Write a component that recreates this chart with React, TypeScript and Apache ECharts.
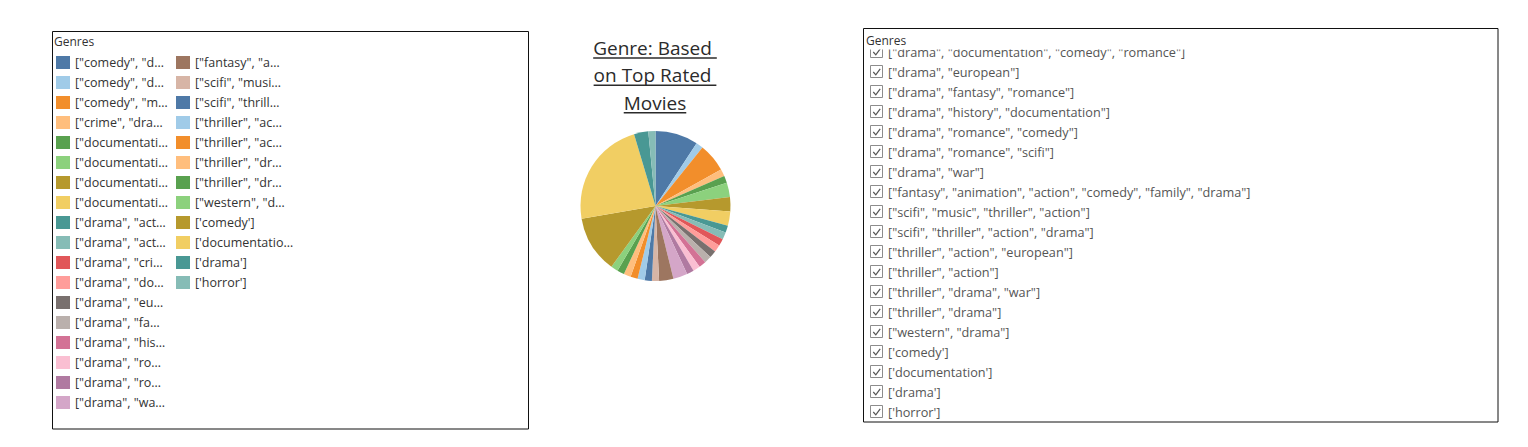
import React, { useEffect, useRef } from "react";
import * as echarts from "echarts";

// ---- data ----
const genreLabels: string[] = [
  '["comedy", "d…',
  '["comedy", "d…',
  '["comedy", "m…',
  '["crime", "dra…',
  '["documentati…',
  '["documentati…',
  '["documentati…',
  '["documentati…',
  '["drama", "act…',
  '["drama", "act…',
  '["drama", "cri…',
  '["drama", "do…',
  '["drama", "eu…',
  '["drama", "fa…',
  '["drama", "his…',
  '["drama", "ro…',
  '["drama", "ro…',
  '["drama", "wa…',
  '["fantasy", "a…',
  '["scifi", "musi…',
  '["scifi", "thrill…',
  '["thriller", "ac…',
  '["thriller", "ac…',
  '["thriller", "dr…',
  '["thriller", "dr…',
  '["western", "d…',
  "['comedy']",
  "['documentatio…",
  "['drama']",
  "['horror']",
];

const movieCounts: number[] = [
  6, 1, 4, 1, 1, 2, 2, 2, 1, 1, 1, 1, 1, 1, 1, 1, 1, 2, 2, 1, 1, 1, 1, 1, 1, 1, 8, 15, 2, 1,
];

const sliceColors: string[] = [
  "#4e79a7", "#a0cbe8", "#f28e2b", "#ffbe7d", "#59a14f", "#8cd17d", "#b6992d", "#f1ce63",
  "#499894", "#86bcb6", "#e15759", "#ff9d9a", "#79706e", "#bab0ac", "#d37295", "#fabfd2",
  "#b07aa1", "#d4a6c8", "#9d7660", "#d7b5a6", "#4e79a7", "#a0cbe8", "#f28e2b", "#ffbe7d",
  "#59a14f", "#8cd17d", "#b6992d", "#f1ce63", "#499894", "#86bcb6",
];

const filterItems: string[] = [
  '["drama", "documentation", "comedy", "romance"]',
  '["drama", "european"]',
  '["drama", "fantasy", "romance"]',
  '["drama", "history", "documentation"]',
  '["drama", "romance", "comedy"]',
  '["drama", "romance", "scifi"]',
  '["drama", "war"]',
  '["fantasy", "animation", "action", "comedy", "family", "drama"]',
  '["scifi", "music", "thriller", "action"]',
  '["scifi", "thriller", "action", "drama"]',
  '["thriller", "action", "european"]',
  '["thriller", "action"]',
  '["thriller", "drama", "war"]',
  '["thriller", "drama"]',
  '["western", "drama"]',
  "['comedy']",
  "['documentation']",
  "['drama']",
  "['horror']",
];

const titleLines: string[] = ["Genre: Based ", "on Top Rated ", "Movies"];
const legendTitle = "Genres";

const FONT = '"Open Sans", "Noto Sans", sans-serif';

function measure(text: string, font: string): number {
  const ctx = document.createElement("canvas").getContext("2d");
  if (!ctx) return text.length * 10;
  ctx.font = font;
  return ctx.measureText(text).width;
}

export default function App() {
  const ref = useRef<HTMLDivElement>(null);

  useEffect(() => {
    if (!ref.current) return;
    const chart = echarts.init(ref.current, null, { renderer: "svg" });

    const keys = genreLabels.map((_, i) => "g" + i);
    const pieData = keys.map((k, i) => ({
      name: k,
      value: movieCounts[i],
      itemStyle: { color: sliceColors[i] },
    }));

    const graphics: any[] = [];

    // left legend box
    graphics.push({
      type: "rect",
      shape: { x: 52.5, y: 31.5, width: 476, height: 397.5 },
      style: { fill: "none", stroke: "#111", lineWidth: 1 },
      z: 20,
    });
    graphics.push({
      type: "text",
      x: 54,
      y: 41.5,
      style: { text: legendTitle, fontSize: 12, fontFamily: FONT, fill: "#333", verticalAlign: "middle" },
      z: 20,
    });

    // title with underline
    const titleFont = `19px ${FONT}`;
    const titleCenters = [47.8, 75.0, 102.6];
    titleLines.forEach((line, i) => {
      const full = measure(line, titleFont);
      const x0 = 655 - full / 2;
      graphics.push({
        type: "text",
        x: x0,
        y: titleCenters[i],
        style: {
          text: line.trimEnd(),
          fontSize: 19,
          fontFamily: FONT,
          fill: "#2b2b2b",
          verticalAlign: "middle",
          align: "left",
        },
        z: 20,
      });
      const uy = titleCenters[i] + 10.2;
      graphics.push({
        type: "line",
        shape: { x1: x0, y1: uy, x2: x0 + full, y2: uy },
        style: { stroke: "#2b2b2b", lineWidth: 1.4 },
        z: 20,
      });
    });

    // right filter list
    filterItems.forEach((item, i) => {
      const cy = 52 + 20 * i;
      graphics.push({
        type: "rect",
        shape: { x: 870.5, y: cy - 6.5, width: 12, height: 12 },
        style: { fill: "#fff", stroke: "#8c8c8c", lineWidth: 1 },
        z: 10,
      });
      graphics.push({
        type: "polyline",
        shape: { points: [[873.3, cy], [875.8, cy + 2.8], [880.2, cy - 3.2]] },
        style: { fill: "none", stroke: "#555", lineWidth: 1.2 },
        z: 10,
      });
      graphics.push({
        type: "text",
        x: 888,
        y: cy,
        style: { text: item, fontSize: 12.7, fontFamily: FONT, fill: "#555", verticalAlign: "middle" },
        z: 10,
      });
    });
    // mask clipping first (scrolled) row
    graphics.push({
      type: "rect",
      shape: { x: 864, y: 29, width: 633, height: 20.5 },
      style: { fill: "#fff" },
      z: 15,
    });
    graphics.push({
      type: "text",
      x: 866,
      y: 40,
      style: { text: legendTitle, fontSize: 12, fontFamily: FONT, fill: "#333", verticalAlign: "middle" },
      z: 20,
    });
    graphics.push({
      type: "rect",
      shape: { x: 863.5, y: 28.5, width: 634.5, height: 393.5 },
      style: { fill: "none", stroke: "#111", lineWidth: 1 },
      z: 20,
    });

    const legendCommon = {
      orient: "vertical" as const,
      icon: "rect",
      itemWidth: 14,
      itemHeight: 13,
      itemGap: 7,
      padding: 0,
      selectedMode: false,
      textStyle: { fontSize: 12.5, fontFamily: FONT, color: "#333" },
      formatter: (name: string) => genreLabels[Number(name.slice(1))],
    };

    chart.setOption({
      animation: false,
      backgroundColor: "#fff",
      legend: [
        { ...legendCommon, left: 56, top: 56, data: keys.slice(0, 18) },
        { ...legendCommon, left: 176, top: 56, data: keys.slice(18) },
      ],
      series: [
        {
          type: "pie",
          center: [655.5, 206],
          radius: 75,
          startAngle: 90,
          clockwise: true,
          silent: true,
          label: { show: false },
          labelLine: { show: false },
          itemStyle: { borderWidth: 0 },
          emphasis: { disabled: true },
          data: pieData,
        },
      ],
      graphic: { elements: graphics },
    });

    return () => chart.dispose();
  }, []);

  return (
    <div
      ref={ref}
      style={{ position: "absolute", left: 0, top: 0, width: 1528, height: 447 }}
    />
  );
}
